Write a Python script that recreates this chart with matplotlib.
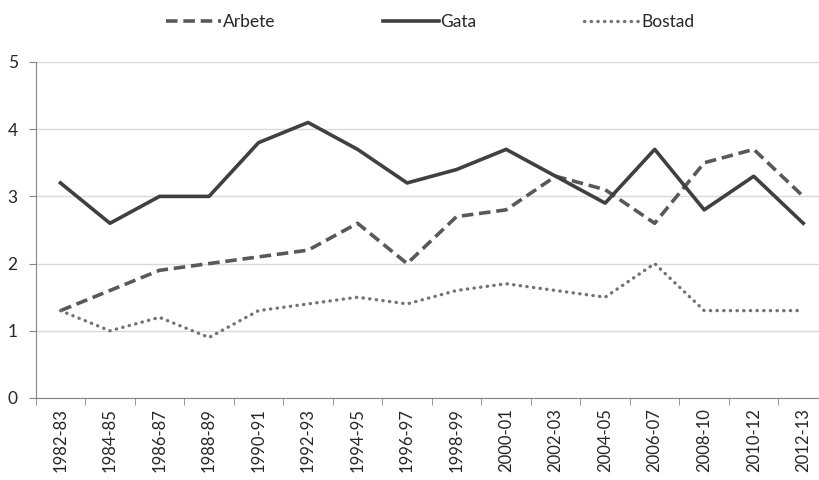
import numpy as np
import matplotlib.pyplot as plt
from matplotlib.ticker import FixedLocator

plt.rcParams['font.family'] = ['Lato', 'DejaVu Sans']

periods = ["1982-83", "1984-85", "1986-87", "1988-89", "1990-91", "1992-93",
           "1994-95", "1996-97", "1998-99", "2000-01", "2002-03", "2004-05",
           "2006-07", "2008-10", "2010-12", "2012-13"]
arbete = [1.3, 1.6, 1.9, 2.0, 2.1, 2.2, 2.6, 2.0, 2.7, 2.8, 3.3, 3.1, 2.6, 3.5, 3.7, 3.0]
gata = [3.2, 2.6, 3.0, 3.0, 3.8, 4.1, 3.7, 3.2, 3.4, 3.7, 3.3, 2.9, 3.7, 2.8, 3.3, 2.6]
bostad = [1.3, 1.0, 1.2, 0.9, 1.3, 1.4, 1.5, 1.4, 1.6, 1.7, 1.6, 1.5, 2.0, 1.3, 1.3, 1.3]

W, H = 819, 480
fig = plt.figure(figsize=(W / 100, H / 100), dpi=100)
# plot area runs a bit past the right edge, like the cropped original
ax = fig.add_axes([35.7 / W, (H - 398) / H, (828 - 35.7) / W, (398 - 62) / H])

x = np.arange(len(periods))
ax.plot(x, arbete, color='#595959', lw=2.6, ls=(0, (3.2, 1.6)), label='Arbete')
ax.plot(x, gata, color='#404040', lw=2.6, ls='-', label='Gata')
ax.plot(x, bostad, color='#737373', lw=2.4, ls=(0, (0.1, 1.9)),
        dash_capstyle='round', label='Bostad')

ax.set_xlim(-0.5, len(periods) - 0.5)
ax.set_ylim(0, 5)
ax.set_yticks(range(6))
ax.grid(axis='y', color='#d9d9d9', lw=1)
ax.set_axisbelow(True)

ax.set_xticks(x)
ax.set_xticklabels(periods, rotation=90, fontsize=12, color='#262626')
ax.xaxis.set_minor_locator(FixedLocator(np.arange(-0.5, len(periods), 1.0)))
ax.tick_params(axis='x', which='major', length=0, pad=7)
ax.tick_params(axis='x', which='minor', length=5, color='#868686', direction='out')
ax.tick_params(axis='y', length=5, color='#868686', labelsize=12.5, labelcolor='#262626', pad=8)

for s in ['top', 'right']:
    ax.spines[s].set_visible(False)
for s in ['left', 'bottom']:
    ax.spines[s].set_color('#868686')

fig.legend(loc='center', bbox_to_anchor=(430 / W, 1 - 22 / H), ncol=3, frameon=False,
           fontsize=12.5, handlelength=3.2, handletextpad=0.1, columnspacing=6.2,
           labelcolor='#262626')

fig.savefig('out.png', dpi=100)
